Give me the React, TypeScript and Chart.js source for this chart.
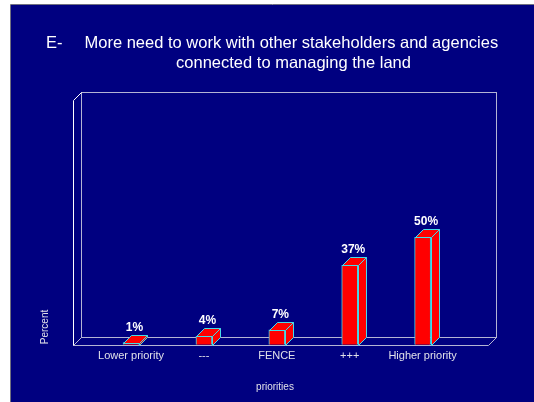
import React, { useEffect, useRef } from "react";
import { Chart, registerables } from "chart.js";

Chart.register(...registerables);

const categories = ["Lower priority", "---", "FENCE", "+++", "Higher priority"];
const percentValues = [1, 4, 7, 37, 50];
const titlePrefix = "E-";
const titleLine1 = "More need to work with other stakeholders and agencies";
const titleLine2 = "connected to managing the land";
const yAxisTitle = "Percent";
const xAxisTitle = "priorities";

const FONT = "'Liberation Sans', Arial, sans-serif";
const NAVY = "#000080";
const RED = "#ff0000";
const CYAN = "#44dde8";
const DEPTH = 8;

const deco = {
  id: "deco3d",
  beforeDraw(chart: any) {
    const ctx = chart.ctx;
    ctx.save();
    ctx.fillStyle = "#ffffff";
    ctx.fillRect(0, 0, chart.width, chart.height);
    ctx.fillStyle = NAVY;
    ctx.fillRect(11, 5, chart.width - 11, chart.height - 5);
    ctx.strokeStyle = "#707080";
    ctx.lineWidth = 1;
    ctx.beginPath();
    ctx.moveTo(10.5, chart.height);
    ctx.lineTo(10.5, 4.5);
    ctx.lineTo(chart.width, 4.5);
    ctx.stroke();

    ctx.fillStyle = "#ffffff";
    ctx.font = `16.5px ${FONT}`;
    ctx.textBaseline = "middle";
    ctx.textAlign = "left";
    ctx.fillText(titlePrefix, 46, 43);
    ctx.fillText(titleLine1, 84.5, 43);
    ctx.textAlign = "center";
    ctx.fillText(titleLine2, 293.5, 63);

    ctx.fillStyle = "#e0e0e8";
    ctx.font = `10px ${FONT}`;
    ctx.fillText(xAxisTitle, 275, 387);
    ctx.translate(45, 327);
    ctx.rotate(-Math.PI / 2);
    ctx.fillText(yAxisTitle, 0, 0);
    ctx.restore();
  },
  beforeDatasetsDraw(chart: any) {
    const { ctx, chartArea } = chart;
    const L = Math.round(chartArea.left) + 0.5;
    const R = Math.round(chartArea.right) + 0.5;
    const T = Math.round(chartArea.top) + 0.5;
    const B = Math.round(chartArea.bottom) + 0.5;
    const d = DEPTH;
    ctx.save();
    ctx.lineWidth = 1;
    ctx.strokeStyle = "#b4b4d4";
    ctx.strokeRect(L + d, T - d, R - L, B - T);
    ctx.beginPath();
    ctx.moveTo(L, B);
    ctx.lineTo(R, B);
    ctx.lineTo(R + d, B - d);
    ctx.moveTo(L, B);
    ctx.lineTo(L + d, B - d);
    ctx.stroke();
    ctx.strokeStyle = "#ffffff";
    ctx.beginPath();
    ctx.moveTo(L, B);
    ctx.lineTo(L, T);
    ctx.lineTo(L + d, T - d);
    ctx.stroke();
    ctx.restore();
  },
  afterDatasetsDraw(chart: any) {
    const { ctx } = chart;
    const meta = chart.getDatasetMeta(0);
    const d = DEPTH;
    ctx.save();
    ctx.lineWidth = 1;
    meta.data.forEach((bar: any, i: number) => {
      const xl = Math.round(bar.x - bar.width / 2) + 0.5;
      const xr = Math.round(bar.x + bar.width / 2) + 0.5;
      const top = Math.round(bar.y) + 0.5;
      const base = Math.round(bar.base) + 0.5;
      ctx.fillStyle = RED;
      ctx.strokeStyle = CYAN;
      // top face
      ctx.beginPath();
      ctx.moveTo(xl, top);
      ctx.lineTo(xl + d, top - d);
      ctx.lineTo(xr + d, top - d);
      ctx.lineTo(xr, top);
      ctx.closePath();
      ctx.fill();
      ctx.stroke();
      // side face
      ctx.beginPath();
      ctx.moveTo(xr, top);
      ctx.lineTo(xr + d, top - d);
      ctx.lineTo(xr + d, base - d);
      ctx.lineTo(xr, base);
      ctx.closePath();
      ctx.fill();
      ctx.stroke();
      // value label
      ctx.fillStyle = "#ffffff";
      ctx.font = `bold 12px ${FONT}`;
      ctx.textAlign = "center";
      ctx.textBaseline = "alphabetic";
      ctx.fillText(`${percentValues[i]}%`, bar.x + d / 2 - 0.5, top - d - 5);
    });
    ctx.restore();
  },
};

export default function App() {
  const ref = useRef<HTMLCanvasElement | null>(null);
  useEffect(() => {
    if (!ref.current) return;
    const chart = new Chart(ref.current, {
      type: "bar",
      data: {
        datasets: [
          {
            data: percentValues.map((v, i) => ({ x: i, y: v })),
            backgroundColor: RED,
            borderColor: CYAN,
            borderWidth: 1,
            barThickness: 16,
          },
        ],
      },
      options: {
        responsive: false,
        animation: false,
        devicePixelRatio: 1,
        layout: { padding: { left: 73, right: 46, top: 100, bottom: 34 } },
        plugins: { legend: { display: false }, tooltip: { enabled: false } },
        scales: {
          x: {
            type: "linear",
            offset: false,
            min: -0.796,
            max: 4.897,
            grid: { display: false, drawTicks: false, offset: false },
            border: { display: false },
            afterBuildTicks: (axis: any) => {
              axis.ticks = categories.map((_, i) => ({ value: i }));
            },
            ticks: {
              color: "#e0e0e8",
              font: { family: FONT, size: 11 },
              padding: 5,
              autoSkip: false,
              maxRotation: 0,
              callback: (v: any) => categories[Math.round(Number(v))] ?? "",
            },
          },
          y: {
            display: false,
            min: 0,
            max: 114,
          },
        },
      },
      plugins: [deco],
    });
    return () => chart.destroy();
  }, []);
  return (
    <div style={{ position: "absolute", left: 0, top: 0, width: 534, height: 402 }}>
      <canvas ref={ref} width={534} height={402} style={{ display: "block" }} />
    </div>
  );
}
